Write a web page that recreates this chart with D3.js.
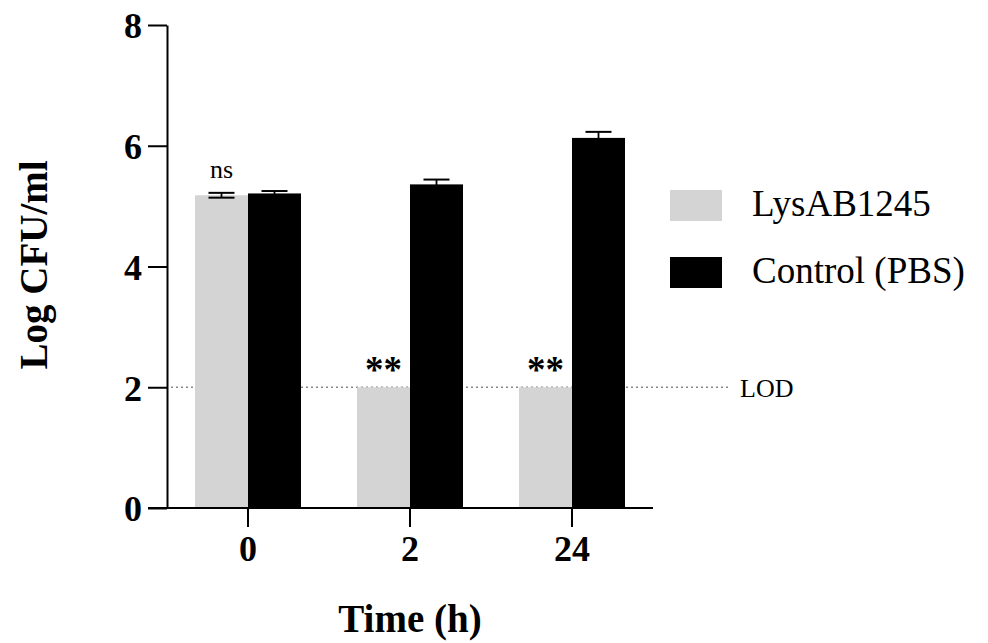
<!DOCTYPE html>
<html>
<head>
<meta charset="utf-8">
<script src="https://cdn.jsdelivr.net/npm/d3@7"></script>
<style>
  html, body { margin: 0; padding: 0; background: #fff; }
  svg, svg text { font-family: "Liberation Serif", "Times New Roman", serif; }
  svg { display: block; }
  .axis path, .axis line { stroke: #000; stroke-width: 2; }
</style>
</head>
<body>
<svg id="chart" width="988" height="643"></svg>
<script>
// Log CFU/ml over time, LysAB1245 vs PBS control
const TIMES = ["0", "2", "24"];
const SERIES = ["LysAB1245", "Control (PBS)"];
const LYS_MEAN = [5.18, 2.0, 2.0];
const LYS_ERR = [0.04, 0, 0];
const PBS_MEAN = [5.21, 5.36, 6.13];
const PBS_ERR = [0.04, 0.08, 0.1];
const SIG = ["ns", "**", "**"];
const Y_TICKS = [0, 2, 4, 6, 8];
const LOD = 2;

const COLORS = { "LysAB1245": "#d4d4d4", "Control (PBS)": "#000" };
const SERIF = '"Liberation Serif", "Times New Roman", serif';

const svg = d3.select("#chart");
const x0 = 167, x1 = 653, yTop = 25, yBot = 508;

const x = d3.scaleBand().domain(TIMES).range([x0, x1])
  .paddingInner(56 / 162).paddingOuter(28 / 162);
const xs = d3.scaleBand().domain(SERIES).range([0, x.bandwidth()]);
const y = d3.scaleLinear().domain([0, 8]).range([yBot, yTop]);

const rows = TIMES.map((t, i) => [
  { t, s: SERIES[0], v: LYS_MEAN[i], e: LYS_ERR[i] },
  { t, s: SERIES[1], v: PBS_MEAN[i], e: PBS_ERR[i] },
]).flat();

// LOD line (behind bars)
svg.append("line")
  .attr("x1", x0 + 4).attr("x2", 730)
  .attr("y1", y(LOD)).attr("y2", y(LOD))
  .attr("stroke", "#888").attr("stroke-width", 1.5)
  .attr("stroke-dasharray", "2,3");
svg.append("text").attr("x", 740).attr("y", y(LOD)).attr("dy", "0.36em")
  .style("font-size", "26px").text("LOD");

// bars
svg.append("g").selectAll("rect").data(rows).join("rect")
  .attr("x", (d) => x(d.t) + xs(d.s))
  .attr("width", xs.bandwidth())
  .attr("y", (d) => y(d.v))
  .attr("height", (d) => y(0) - y(d.v))
  .attr("fill", (d) => COLORS[d.s]);

// error bars
const eb = svg.append("g").selectAll("g").data(rows.filter((d) => d.e > 0)).join("g")
  .attr("transform", (d) => `translate(${x(d.t) + xs(d.s) + xs.bandwidth() / 2},0)`);
eb.append("line").attr("y1", (d) => y(d.v - d.e)).attr("y2", (d) => y(d.v + d.e))
  .attr("stroke", "#000").attr("stroke-width", 1.8);
eb.append("line").attr("x1", -13).attr("x2", 13)
  .attr("y1", (d) => y(d.v + d.e)).attr("y2", (d) => y(d.v + d.e))
  .attr("stroke", "#000").attr("stroke-width", 2);
eb.filter((d) => d.s === SERIES[0]).append("line").attr("x1", -13).attr("x2", 13)
  .attr("y1", (d) => y(d.v - d.e)).attr("y2", (d) => y(d.v - d.e))
  .attr("stroke", "#000").attr("stroke-width", 2);

// significance marks above LysAB1245 bars
svg.append("g").selectAll("text").data(TIMES).join("text")
  .attr("x", (t) => x(t) + xs(SERIES[0]) + xs.bandwidth() / 2)
  .attr("y", (t, i) => SIG[i] === "ns" ? y(LYS_MEAN[i] + LYS_ERR[i]) - 15 : y(LYS_MEAN[i]) - 5)
  .attr("text-anchor", "middle")
  .style("font-size", (t, i) => SIG[i] === "ns" ? "26px" : "37px")
  .style("font-weight", (t, i) => SIG[i] === "ns" ? "normal" : "bold")
  .text((t, i) => SIG[i]);

// y axis
const gy = svg.append("g").attr("class", "axis")
  .attr("transform", `translate(${x0},0)`)
  .call(d3.axisLeft(y).tickValues(Y_TICKS).tickSize(19).tickPadding(6).tickSizeOuter(0))
  .attr("font-family", SERIF);
gy.selectAll("text").style("font-size", "36px").style("font-weight", "bold")
  .attr("dy", "0.36em");

// x axis
const gx = svg.append("g").attr("class", "axis")
  .attr("transform", `translate(0,${yBot})`)
  .call(d3.axisBottom(x).tickSize(19).tickPadding(8).tickSizeOuter(0))
  .attr("font-family", SERIF);
gx.select(".domain").attr("d", `M${x0 - 19},0H${x1}`);
gx.selectAll("text").style("font-size", "36px").style("font-weight", "bold")
  .attr("dy", "0.71em");

// axis titles
svg.append("text").attr("x", 410).attr("y", 632).attr("text-anchor", "middle")
  .style("font-size", "39px").style("font-weight", "bold").text("Time (h)");
svg.append("text").attr("transform", "translate(47,265) rotate(-90)")
  .attr("text-anchor", "middle")
  .style("font-size", "39px").style("font-weight", "bold").text("Log CFU/ml");

// legend
const lg = svg.append("g").attr("transform", "translate(670,190)");
const li = lg.selectAll("g").data(SERIES).join("g")
  .attr("transform", (d, i) => `translate(0,${i * 67})`);
li.append("rect").attr("width", 52).attr("height", 31).attr("fill", (d) => COLORS[d]);
li.append("text").attr("x", 82).attr("y", 26)
  .style("font-family", SERIF).style("font-size", "37px").text((d) => d);
</script>
</body>
</html>
